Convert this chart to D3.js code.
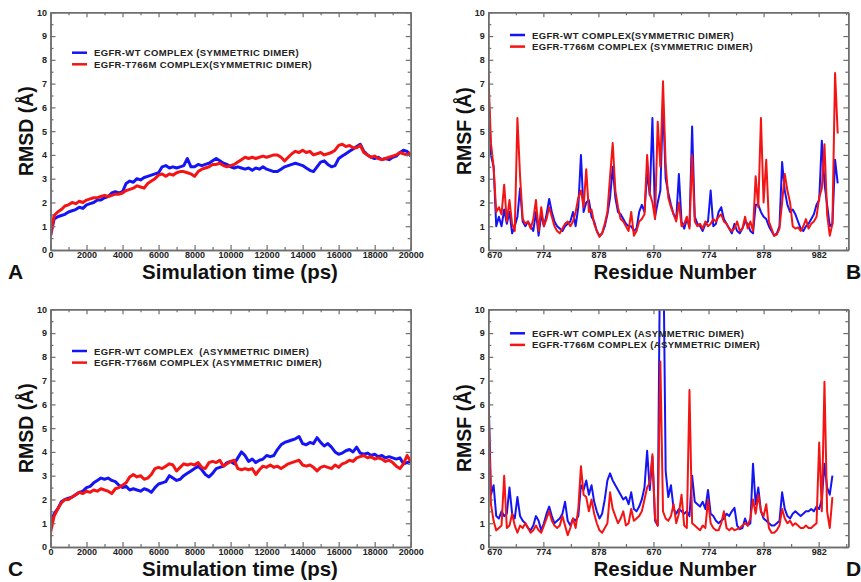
<!DOCTYPE html>
<html lang="en">
<head>
<meta charset="UTF-8"/>
<title>EGFR dimer RMSD and RMSF</title>
<script src="https://d3js.org/d3.v7.min.js"></script>
<style>
  body { margin: 0; background: #fff; }
  text { font-family: "Liberation Sans", Arial, Helvetica, sans-serif; font-weight: bold; }
</style>
</head>
<body>
<script>
// RMSD (A), one value every 200 ps, 0..20000 ps
var rmsdStep = 200;
var rmsdSymWT = [
  0.6, 1.3, 1.4, 1.45, 1.5, 1.6, 1.65, 1.7, 1.8, 1.75,
  1.9, 1.95, 2.0, 2.1, 2.1, 2.2, 2.25, 2.4, 2.45, 2.4,
  2.45, 2.8, 2.9, 2.85, 3.0, 2.95, 3.05, 3.1, 3.15, 3.2,
  3.25, 3.5, 3.55, 3.45, 3.5, 3.45, 3.5, 3.55, 3.85, 3.5,
  3.5, 3.6, 3.55, 3.6, 3.65, 3.75, 3.85, 3.75, 3.65, 3.6,
  3.5, 3.45, 3.5, 3.45, 3.4, 3.45, 3.35, 3.45, 3.4, 3.5,
  3.4, 3.35, 3.3, 3.3, 3.4, 3.5, 3.55, 3.6, 3.65, 3.6,
  3.55, 3.45, 3.35, 3.3, 3.5, 3.7, 3.75, 3.6, 3.5, 3.55,
  3.85, 3.95, 4.05, 4.15, 4.25, 4.35, 4.45, 4.15, 4.0, 3.9,
  3.85, 3.9, 3.8, 3.85, 3.8, 3.9, 3.95, 4.1, 4.2, 4.15,
  3.95];
var rmsdSymMut = [
  0.6, 1.45, 1.6, 1.7, 1.85, 1.9, 2.0, 1.95, 2.05, 2.0,
  2.1, 2.15, 2.2, 2.2, 2.25, 2.3, 2.25, 2.3, 2.35, 2.35,
  2.4, 2.5, 2.55, 2.6, 2.7, 2.65, 2.6, 2.8, 2.9, 3.0,
  3.15, 3.2, 3.1, 3.2, 3.15, 3.25, 3.3, 3.3, 3.25, 3.2,
  3.1, 3.3, 3.4, 3.45, 3.5, 3.6, 3.6, 3.65, 3.55, 3.5,
  3.55, 3.6, 3.7, 3.8, 3.9, 3.85, 3.9, 3.85, 3.9, 3.95,
  3.9, 3.95, 4.0, 4.0, 3.9, 3.75, 3.9, 4.05, 4.15, 4.1,
  4.2, 4.1, 4.15, 4.0, 4.05, 4.1, 4.0, 4.05, 4.1, 4.2,
  4.4, 4.45, 4.35, 4.4, 4.3, 4.3, 4.4, 4.1, 4.0, 3.9,
  3.95, 3.85, 3.8, 3.85, 3.9, 3.95, 4.0, 4.1, 4.05, 4.0,
  4.1];
var rmsdAsymWT = [
  0.9, 1.4, 1.6, 1.9, 2.0, 2.05, 2.1, 2.2, 2.3, 2.35,
  2.5, 2.55, 2.7, 2.8, 2.9, 2.85, 2.9, 2.8, 2.75, 2.6,
  2.5, 2.55, 2.4, 2.45, 2.4, 2.35, 2.45, 2.4, 2.3, 2.5,
  2.65, 2.7, 2.75, 3.0, 2.9, 2.8, 2.85, 3.0, 3.1, 3.2,
  3.3, 3.4, 3.25, 3.05, 2.95, 3.1, 3.3, 3.35, 3.4, 3.55,
  3.6, 3.5, 3.75, 4.0, 3.85, 3.6, 3.7, 3.55, 3.65, 3.7,
  3.85, 3.8, 3.85, 4.1, 4.3, 4.4, 4.45, 4.5, 4.55, 4.65,
  4.35, 4.3, 4.4, 4.35, 4.6, 4.4, 4.25, 4.35, 4.2, 4.0,
  3.9, 3.95, 4.05, 4.1, 4.0, 4.2, 3.95, 3.9, 3.95, 3.85,
  3.9, 3.8, 3.85, 3.75, 3.8, 3.75, 3.7, 3.75, 3.5, 3.55,
  3.6];
var rmsdAsymMut = [
  0.6, 1.3, 1.6, 1.85, 2.0, 2.0, 2.1, 2.2, 2.3, 2.25,
  2.35, 2.3, 2.4, 2.35, 2.45, 2.4, 2.35, 2.25, 2.45, 2.5,
  2.6, 2.7, 2.95, 3.05, 2.95, 3.0, 2.85, 2.9, 3.05, 3.3,
  3.35, 3.3, 3.4, 3.5, 3.45, 3.2, 3.35, 3.5, 3.45, 3.5,
  3.45, 3.55, 3.35, 3.3, 3.55, 3.6, 3.55, 3.65, 3.4, 3.5,
  3.6, 3.65, 3.3, 3.25, 3.3, 3.25, 3.3, 3.05, 3.25, 3.4,
  3.35, 3.45, 3.35, 3.4, 3.3, 3.4, 3.5, 3.55, 3.6, 3.65,
  3.45, 3.4, 3.45, 3.35, 3.2, 3.35, 3.4, 3.35, 3.3, 3.45,
  3.35, 3.5, 3.55, 3.65, 3.6, 3.75, 3.8, 3.85, 3.75, 3.8,
  3.7, 3.75, 3.7, 3.6, 3.65, 3.55, 3.4, 3.3, 3.5, 3.85,
  3.6];

// RMSF (A), one value every 5 residues along the two concatenated chains
var rmsfStep = 5;
var rmsfSymWT = [
  7.0, 4.0, 3.5, 1.0, 1.4, 1.0, 1.7, 1.1, 1.6, 0.7,
  1.0, 1.4, 2.6, 1.2, 1.0, 1.2, 1.0, 0.8, 1.6, 0.6,
  1.5, 1.0, 1.5, 2.15, 1.6, 1.2, 1.0, 0.9, 0.8, 1.0,
  1.1, 1.2, 1.6, 1.0, 1.8, 4.0, 1.6, 2.0, 2.1, 1.4,
  1.2, 0.8, 0.6, 0.7, 1.0, 1.5, 2.2, 3.5, 2.2, 1.6,
  1.5, 1.3, 1.1, 1.0, 1.0, 0.8, 0.9, 1.6, 1.9, 1.6,
  3.3, 2.3, 5.55, 1.4, 2.0, 2.5, 6.2, 3.0, 2.4, 1.9,
  1.5, 1.3, 3.2, 1.2, 0.9, 1.3, 1.0, 5.2, 1.4, 1.1,
  1.0, 0.8, 1.1, 1.2, 2.5, 1.0, 1.1, 1.6, 1.8, 1.3,
  1.1, 0.9, 0.7, 1.1, 0.8, 0.7, 0.9, 1.2, 1.1, 0.8,
  0.7, 1.9, 1.9, 1.6, 1.4, 1.3, 1.0, 0.8, 0.6, 0.7,
  1.0, 3.7, 2.5, 1.9, 1.6, 1.7, 1.5, 1.2, 0.9, 0.8,
  1.0, 1.1, 1.3, 1.5, 1.9, 2.1, 4.6, 2.8, 1.9, 1.0,
  1.1, 3.8, 2.8];
var rmsfSymMut = [
  7.5, 4.5, 3.5, 1.6, 1.8, 1.5, 2.75, 1.2, 2.1, 1.1,
  0.8, 5.55, 3.1, 1.3, 1.1, 1.2, 0.9, 1.3, 2.1, 0.8,
  1.8, 1.0, 1.3, 1.8, 1.4, 1.0, 0.8, 0.7, 0.9, 1.1,
  1.2, 1.0, 1.2, 1.6, 2.2, 2.5, 1.8, 3.4, 1.6, 1.7,
  1.1, 0.8, 0.55, 0.7, 1.1, 1.6, 3.1, 4.5, 2.5, 1.8,
  1.3, 1.2, 1.0, 0.8, 1.6, 0.6, 0.8, 1.2, 1.3, 1.5,
  4.0, 2.4, 2.0, 1.3, 5.4, 3.5, 7.1, 3.6, 2.2, 1.8,
  1.5, 1.2, 2.0, 1.0, 1.1, 1.4, 0.9, 4.0, 1.2, 1.0,
  1.1, 0.9, 1.2, 1.0, 1.1, 1.3, 1.2, 1.4, 1.5, 1.2,
  1.1, 0.9, 0.8, 0.9, 1.2, 0.8, 0.9, 1.4, 0.9, 1.2,
  0.8, 3.1, 1.8, 5.55, 2.0, 3.8, 1.2, 0.9, 0.6, 0.65,
  0.9, 2.0, 3.2, 2.5, 2.0, 1.0, 0.9, 0.95, 0.8, 1.0,
  1.3, 0.9, 1.1, 1.2, 1.4, 2.2, 2.6, 4.45, 1.5, 0.6,
  1.1, 7.45, 4.9];
var rmsfAsymWT = [
  6.9, 2.2, 2.6, 1.3, 1.2, 1.5, 1.3, 1.4, 2.5, 1.4,
  1.2, 2.1, 1.3, 1.1, 1.0, 0.8, 0.7, 0.9, 1.3, 1.1,
  0.7, 1.0, 1.4, 1.7, 1.3, 1.0, 1.1, 1.2, 1.4, 1.9,
  1.1, 0.9, 1.2, 1.1, 1.3, 2.6, 2.4, 2.8, 2.2, 2.6,
  1.9, 1.5, 1.2, 1.4, 2.0, 2.8, 3.1, 2.8, 2.6, 2.4,
  2.2, 2.0, 2.1, 1.8, 2.3, 1.6, 1.5, 1.7, 2.0, 2.5,
  4.05, 2.4, 3.8, 1.1, 0.9, 14, 14, 3.2, 2.1, 2.6,
  1.6, 1.4, 1.6, 1.5, 1.4, 1.5, 1.3, 3.0, 1.9, 1.8,
  1.7, 1.9, 1.6, 2.4, 1.4, 1.3, 1.1, 1.0, 1.1, 1.2,
  1.4, 1.3, 1.5, 1.65, 0.9, 0.75, 0.8, 1.2, 0.9, 1.0,
  3.5, 1.8, 2.5, 1.5, 1.2, 1.1, 1.0, 0.9, 0.9, 1.0,
  1.1, 2.3, 1.6, 1.3, 1.2, 1.4, 1.5, 1.4, 1.3, 1.4,
  1.5, 1.5, 1.6, 1.5, 1.7, 1.6, 2.0, 3.5, 2.5, 2.2,
  3.0];
var rmsfAsymMut = [
  6.4, 1.8, 1.1, 0.7, 0.8, 0.9, 3.0, 0.8, 0.9, 1.4,
  0.9, 0.6, 0.9, 0.8, 1.0, 0.8, 0.6, 0.7, 0.9, 0.7,
  0.6, 0.9, 1.2, 1.5, 1.1, 0.9, 0.8, 0.9, 1.3, 0.9,
  0.5, 0.8, 1.2, 0.8, 1.6, 3.4, 2.2, 2.1, 1.5, 2.0,
  1.4, 1.0, 0.7, 0.6, 0.8, 1.0, 2.3, 1.6, 1.3, 1.0,
  1.2, 1.5, 0.9, 1.0, 1.6, 1.1, 1.2, 1.3, 1.5, 2.0,
  2.5, 2.7, 3.9, 1.2, 0.9, 7.8, 1.5, 1.2, 1.1, 1.3,
  1.8, 1.0, 1.4, 2.2, 0.9, 0.8, 6.6, 1.0, 0.9, 0.8,
  0.7, 0.9, 0.8, 2.0, 1.0, 0.8, 0.7, 0.7, 1.0, 1.5,
  0.8, 0.7, 0.8, 0.7, 0.75, 0.8, 0.9, 1.0, 0.9, 1.2,
  2.0, 1.4, 2.2, 1.5, 1.3, 1.8, 0.8, 0.6, 0.6, 0.7,
  0.9, 1.6, 1.2, 1.0, 1.1, 0.9, 1.0, 0.9, 0.8, 0.8,
  0.9, 0.8, 0.8, 0.9, 1.0, 4.4, 1.5, 6.95, 1.5, 0.8,
  2.1];

// axis ticks
var yMajor = [0, 1, 2, 3, 4, 5, 6, 7, 8, 9, 10];
var yMinor = [0.5, 1.5, 2.5, 3.5, 4.5, 5.5, 6.5, 7.5, 8.5, 9.5];
var timeMajor = [0, 2000, 4000, 6000, 8000, 10000, 12000, 14000, 16000, 18000, 20000];
var timeMinor = [1000, 3000, 5000, 7000, 9000, 11000, 13000, 15000, 17000, 19000];
var resMajor = [0, 104, 208, 312, 416, 520, 624];
var resMinor = [52, 156, 260, 364, 468, 572, 676];
var resLabels = ["670", "774", "878", "670", "774", "878", "982"];

var legendA = ["EGFR-WT COMPLEX (SYMMETRIC DIMER)", "EGFR-T766M COMPLEX(SYMMETRIC DIMER)"];
var legendB = ["EGFR-WT COMPLEX(SYMMETRIC DIMER)", "EGFR-T766M COMPLEX (SYMMETRIC DIMER)"];
var legendC = ["EGFR-WT COMPLEX  (ASYMMETRIC DIMER)", "EGFR-T766M COMPLEX (ASYMMETRIC DIMER)"];
var legendD = ["EGFR-WT COMPLEX (ASYMMETRIC DIMER)", "EGFR-T766M COMPLEX (ASYMMETRIC DIMER)"];

var blue = "#1414f5";
var red = "#f51414";
var axisColor = "#6e6e6e";

var svg = d3.select("body").append("svg")
  .attr("width", 861)
  .attr("height", 582);

function drawPanel(p) {
  var x = d3.scaleLinear().domain(p.xDomain).range([p.left, p.right]);
  var y = d3.scaleLinear().domain([0, 10]).range([p.bottom, p.top]);

  svg.append("clipPath").attr("id", "clip" + p.letter)
    .append("rect")
    .attr("x", p.left).attr("y", p.top)
    .attr("width", p.right - p.left).attr("height", p.bottom - p.top);

  var line = d3.line()
    .x(function(d, i) { return x(i * p.step); })
    .y(function(d) { return y(d); });

  var g = svg.append("g").attr("clip-path", "url(#clip" + p.letter + ")");
  g.append("path").datum(p.wt)
    .attr("fill", "none").attr("stroke", blue)
    .attr("stroke-width", p.lineWidth).attr("stroke-linejoin", "round")
    .attr("d", line);
  g.append("path").datum(p.mut)
    .attr("fill", "none").attr("stroke", red)
    .attr("stroke-width", p.lineWidth).attr("stroke-linejoin", "round")
    .attr("d", line);

  var xMinor = p.xMinor.filter(function(v) { return v < p.xDomain[1]; });

  // ticks point inwards on all four sides
  var axes = [
    { a: d3.axisBottom(x).tickValues(p.xMajor).tickSize(-5).tickPadding(1.5), t: "translate(0," + p.bottom + ")", lab: "x" },
    { a: d3.axisBottom(x).tickValues(xMinor).tickSize(-3), t: "translate(0," + p.bottom + ")" },
    { a: d3.axisTop(x).tickValues(p.xMajor).tickSize(-5), t: "translate(0," + p.top + ")" },
    { a: d3.axisTop(x).tickValues(xMinor).tickSize(-3), t: "translate(0," + p.top + ")" },
    { a: d3.axisLeft(y).tickValues(yMajor).tickSize(-5).tickPadding(3.5), t: "translate(" + p.left + ",0)", lab: "y" },
    { a: d3.axisLeft(y).tickValues(yMinor).tickSize(-3), t: "translate(" + p.left + ",0)" },
    { a: d3.axisRight(y).tickValues(yMajor).tickSize(-5), t: "translate(" + p.right + ",0)" },
    { a: d3.axisRight(y).tickValues(yMinor).tickSize(-3), t: "translate(" + p.right + ",0)" }
  ];
  axes.forEach(function(ax) {
    ax.a.tickSizeOuter(0);
    if (!ax.lab) ax.a.tickFormat("");
    else if (ax.lab === "x") ax.a.tickFormat(p.xFormat);
    else ax.a.tickFormat(d3.format("d"));
    var ga = svg.append("g").attr("transform", ax.t).call(ax.a);
    ga.select(".domain").attr("stroke", axisColor).attr("stroke-width", 1.5);
    ga.selectAll(".tick line").attr("stroke", axisColor).attr("stroke-width", 1.2);
    ga.selectAll("text")
      .attr("font-size", 9).attr("fill", "#222")
      .attr("font-family", "'Liberation Sans', Arial, sans-serif")
      .attr("font-weight", "bold");
    // first residue label sits a little right of the corner, clear of the y "0"
    if (ax.lab === "x" && p.firstLabelDx) {
      ga.selectAll(".tick text").filter(function(d) { return d === 0; })
        .attr("dx", p.firstLabelDx);
    }
  });

  // legend
  [blue, red].forEach(function(c, k) {
    var ly = p.legendY + k * 11.6;
    svg.append("line")
      .attr("x1", p.legendX).attr("x2", p.legendX + 15)
      .attr("y1", ly).attr("y2", ly)
      .attr("stroke", c).attr("stroke-width", 2.5);
    svg.append("text")
      .attr("x", p.legendX + 22).attr("y", ly + 3.5)
      .attr("font-size", 9.5).attr("letter-spacing", 0.36)
      .attr("fill", "#222")
      .attr("xml:space", "preserve")
      .style("white-space", "pre")
      .text(p.legend[k]);
  });

  // axis titles and panel letter
  svg.append("text")
    .attr("x", p.xTitleX).attr("y", p.bottom + 28.5)
    .attr("text-anchor", "middle").attr("font-size", 20.5).attr("fill", "#111")
    .text(p.xTitle);
  svg.append("text")
    .attr("transform", "translate(" + (p.left - 17.5) + "," + ((p.top + p.bottom) / 2) + ") rotate(-90)")
    .attr("text-anchor", "middle").attr("font-size", 19.5).attr("fill", "#111")
    .text(p.yTitle);
  svg.append("text")
    .attr("x", p.letterX).attr("y", p.bottom + 28.5)
    .attr("font-size", 21).attr("fill", "#111")
    .text(p.letter);
}

var timeFmt = d3.format("d");
var resFmt = function(d) { return resLabels[resMajor.indexOf(d)]; };

drawPanel({ letter: "A", left: 50.5, right: 410.7, top: 12.3, bottom: 250,
  xDomain: [0, 20000], step: rmsdStep, xMajor: timeMajor, xMinor: timeMinor, xFormat: timeFmt,
  wt: rmsdSymWT, mut: rmsdSymMut, lineWidth: 3,
  legend: legendA, legendX: 72, legendY: 52.7,
  xTitle: "Simulation time (ps)", xTitleX: 240, yTitle: "RMSD (Å)", letterX: 8 });

drawPanel({ letter: "B", left: 488.3, right: 848.3, top: 12.3, bottom: 250,
  xDomain: [0, 680], step: rmsfStep, xMajor: resMajor, xMinor: resMinor, xFormat: resFmt, firstLabelDx: 6,
  wt: rmsfSymWT, mut: rmsfSymMut, lineWidth: 2,
  legend: legendB, legendX: 510, legendY: 35,
  xTitle: "Residue Number", xTitleX: 675, yTitle: "RMSF (Å)", letterX: 846 });

drawPanel({ letter: "C", left: 50.5, right: 410.7, top: 309.3, bottom: 547,
  xDomain: [0, 20000], step: rmsdStep, xMajor: timeMajor, xMinor: timeMinor, xFormat: timeFmt,
  wt: rmsdAsymWT, mut: rmsdAsymMut, lineWidth: 3,
  legend: legendC, legendX: 72, legendY: 351,
  xTitle: "Simulation time (ps)", xTitleX: 240, yTitle: "RMSD (Å)", letterX: 8 });

drawPanel({ letter: "D", left: 488.3, right: 848.3, top: 309.3, bottom: 547,
  xDomain: [0, 680], step: rmsfStep, xMajor: resMajor, xMinor: resMinor, xFormat: resFmt, firstLabelDx: 6,
  wt: rmsfAsymWT, mut: rmsfAsymMut, lineWidth: 2,
  legend: legendD, legendX: 510, legendY: 333.3,
  xTitle: "Residue Number", xTitleX: 675, yTitle: "RMSF (Å)", letterX: 846 });
</script>
</body>
</html>
